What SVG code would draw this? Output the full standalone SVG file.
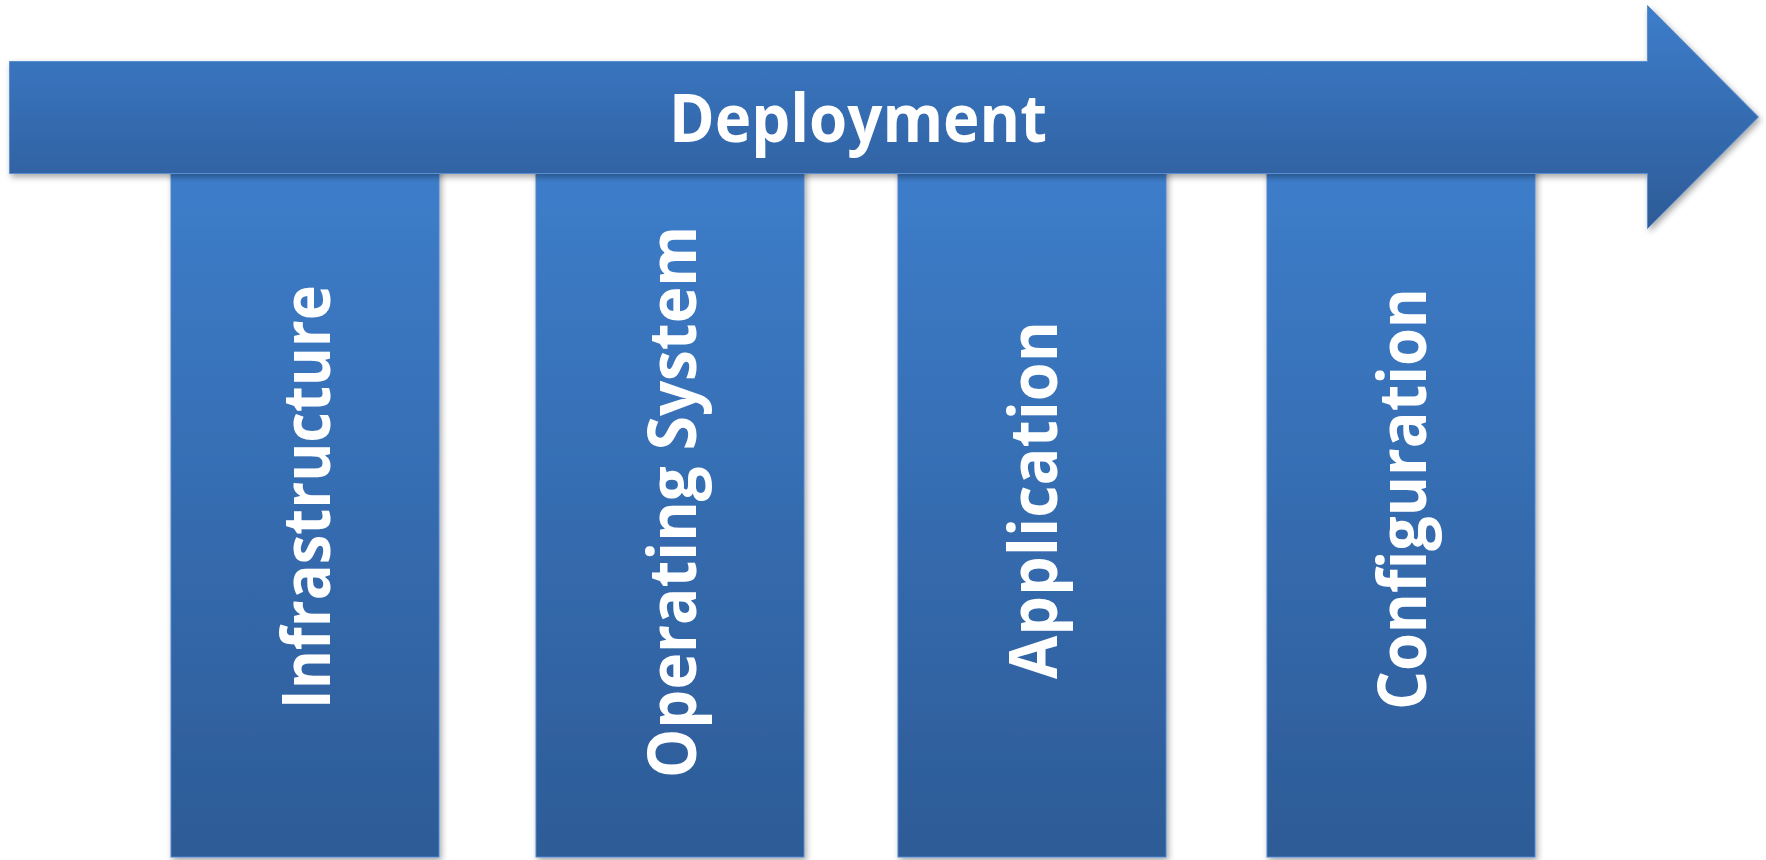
<svg xmlns="http://www.w3.org/2000/svg" width="1766" height="860" viewBox="0 0 1766 860">
  <defs>
    <linearGradient id="gArrow" gradientUnits="userSpaceOnUse" x1="0" y1="5" x2="0" y2="229">
      <stop offset="0" stop-color="#3D7DCB"/>
      <stop offset="1" stop-color="#2D5B97"/>
    </linearGradient>
    <linearGradient id="gCol" gradientUnits="userSpaceOnUse" x1="0" y1="173" x2="0" y2="857">
      <stop offset="0" stop-color="#3D7DCA"/>
      <stop offset="1" stop-color="#2D5B96"/>
    </linearGradient>
    <filter id="shadow" x="-5%" y="-5%" width="110%" height="115%">
      <feDropShadow dx="2" dy="3" stdDeviation="3" flood-color="#000" flood-opacity="0.35"/>
    </filter>
  </defs>
  <style>
    .col { fill: url(#gCol); stroke: #4F86CF; stroke-width: 1; filter: url(#shadow); }
    .arrow { fill: url(#gArrow); stroke: #5A8FD4; stroke-width: 1; filter: url(#shadow); }
    .lbl { font-family: "Open Sans", Lato, "DejaVu Sans", sans-serif; font-weight: bold; fill: #FFFFFF; text-anchor: middle; font-size: 66px; }
  </style>
  <g id="col-infrastructure">
    <rect class="col" x="171" y="165" width="268" height="692"/>
    <text class="lbl" transform="translate(330,497) rotate(-90)" textLength="424" lengthAdjust="spacingAndGlyphs">Infrastructure</text>
  </g>
  <g id="col-operating-system">
    <rect class="col" x="536" y="165" width="268" height="692"/>
    <text class="lbl" transform="translate(696,502) rotate(-90)" textLength="552" lengthAdjust="spacingAndGlyphs">Operating System</text>
  </g>
  <g id="col-application">
    <rect class="col" x="898" y="165" width="268" height="692"/>
    <text class="lbl" transform="translate(1057,500) rotate(-90)" textLength="358" lengthAdjust="spacingAndGlyphs">Application</text>
  </g>
  <g id="col-configuration">
    <rect class="col" x="1267" y="165" width="268" height="692"/>
    <text class="lbl" transform="translate(1426,499) rotate(-90)" textLength="422" lengthAdjust="spacingAndGlyphs">Configuration</text>
  </g>
  <g id="deployment-arrow">
    <path class="arrow" d="M9.5,61.5 H1647.5 V5.5 L1758.5,117 L1647.5,228.5 V173.5 H9.5 Z"/>
    <text class="lbl" x="858" y="142" textLength="378" lengthAdjust="spacingAndGlyphs">Deployment</text>
  </g>
</svg>
